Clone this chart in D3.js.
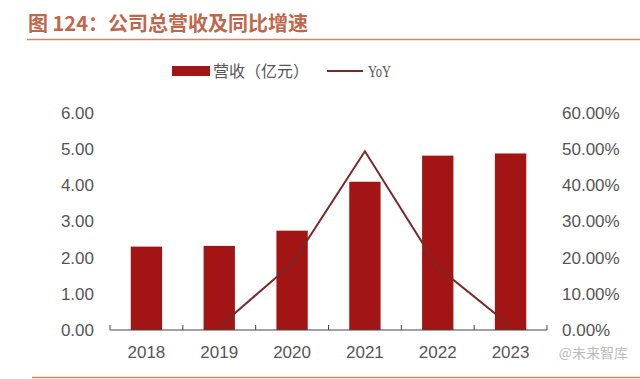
<!DOCTYPE html>
<html>
<head>
<meta charset="utf-8">
<script src="https://cdn.jsdelivr.net/npm/d3@7"></script>
<style>
    body { margin: 0; background: #fff; }
    svg { display: block; }
</style>
</head>
<body>
<div id="chart"></div>
<script>
// --- chart data ---
const years = ["2018", "2019", "2020", "2021", "2022", "2023"];
const revenue = [2.30, 2.32, 2.74, 4.09, 4.81, 4.87];
const yoy = [null, 0.9, 18.3, 49.3, 17.3, 1.1];
const leftTicks = [0, 1, 2, 3, 4, 5, 6];
const rightTicks = [0, 10, 20, 30, 40, 50, 60];

const W = 640, H = 379;
const svg = d3.select("#chart").append("svg")
    .attr("width", W)
    .attr("height", H);

const font = "'Liberation Sans', Arial, sans-serif";
const cjk = "'Noto Sans CJK SC', sans-serif";

// title + rules
svg.append("text")
    .attr("x", 28)
    .attr("y", 31)
    .attr("font-family", cjk)
    .attr("font-weight", "bold")
    .attr("font-size", 20)
    .attr("fill", "#c0664a")
    .text("图 124：公司总营收及同比增速");

svg.append("line")
    .attr("x1", 27).attr("x2", W)
    .attr("y1", 39.5).attr("y2", 39.5)
    .attr("stroke", "#d98266").attr("stroke-width", 1.5);

svg.append("line")
    .attr("x1", 32).attr("x2", W)
    .attr("y1", 377.5).attr("y2", 377.5)
    .attr("stroke", "#d98266").attr("stroke-width", 1.5);

// scales
const x = d3.scaleBand()
    .domain(years)
    .range([110, 547])
    .paddingInner(0.57)
    .paddingOuter(0.285);

const yL = d3.scaleLinear().domain([0, 6]).range([330, 112.5]);
const yR = d3.scaleLinear().domain([0, 60]).range([330, 112.5]);

// bars
svg.append("g")
    .selectAll("rect")
    .data(years)
    .enter().append("rect")
    .attr("x", d => x(d))
    .attr("y", (d, i) => yL(revenue[i]))
    .attr("width", x.bandwidth())
    .attr("height", (d, i) => yL(0) - yL(revenue[i]))
    .attr("fill", "#a31515");

// x axis with upward ticks at category boundaries
const axisG = svg.append("g");
axisG.append("line")
    .attr("x1", 110).attr("x2", 547)
    .attr("y1", 330).attr("y2", 330)
    .attr("stroke", "#444").attr("stroke-width", 1);
d3.range(years.length + 1).forEach(i => {
    const tx = 110 + i * x.step();
    axisG.append("line")
        .attr("x1", tx).attr("x2", tx)
        .attr("y1", 325).attr("y2", 330)
        .attr("stroke", "#444").attr("stroke-width", 1);
});
axisG.selectAll("text")
    .data(years)
    .enter().append("text")
    .attr("x", d => x(d) + x.bandwidth() / 2)
    .attr("y", 358)
    .attr("text-anchor", "middle")
    .attr("font-family", font)
    .attr("font-size", 17)
    .attr("fill", "#555")
    .text(d => d);

// y axes labels
svg.append("g")
    .selectAll("text")
    .data(leftTicks)
    .enter().append("text")
    .attr("x", 94)
    .attr("y", d => yL(d) + 6)
    .attr("text-anchor", "end")
    .attr("font-family", font)
    .attr("font-size", 17)
    .attr("fill", "#555")
    .text(d => d.toFixed(2));

svg.append("g")
    .selectAll("text")
    .data(rightTicks)
    .enter().append("text")
    .attr("x", 562)
    .attr("y", d => yR(d) + 6)
    .attr("text-anchor", "start")
    .attr("font-family", font)
    .attr("font-size", 17)
    .attr("fill", "#555")
    .text(d => d.toFixed(2) + "%");

// YoY line
const lineData = years.map((d, i) => ({ year: d, v: yoy[i] })).filter(d => d.v !== null);
const line = d3.line()
    .x(d => x(d.year) + x.bandwidth() / 2)
    .y(d => yR(d.v));

svg.append("path")
    .datum(lineData)
    .attr("fill", "none")
    .attr("stroke", "#7a2828")
    .attr("stroke-width", 2)
    .attr("d", line);

// legend
const leg = svg.append("g");
leg.append("rect")
    .attr("x", 172).attr("y", 66)
    .attr("width", 38).attr("height", 10)
    .attr("fill", "#a31515");
leg.append("text")
    .attr("x", 213).attr("y", 77)
    .attr("font-family", cjk)
    .attr("font-size", 16)
    .attr("fill", "#555")
    .text("营收（亿元）");
leg.append("line")
    .attr("x1", 327).attr("x2", 363)
    .attr("y1", 71).attr("y2", 71)
    .attr("stroke", "#7a2828").attr("stroke-width", 2);
leg.append("text")
    .attr("x", 368).attr("y", 77)
    .attr("font-family", "'Liberation Serif', 'Times New Roman', serif")
    .attr("font-size", 16)
    .attr("textLength", 23)
    .attr("lengthAdjust", "spacingAndGlyphs")
    .attr("fill", "#555")
    .text("YoY");

// watermark
svg.append("text")
    .attr("x", 628).attr("y", 358)
    .attr("text-anchor", "end")
    .attr("font-family", cjk)
    .attr("font-size", 14)
    .attr("fill", "#bbb")
    .text("@未来智库");
</script>
</body>
</html>
